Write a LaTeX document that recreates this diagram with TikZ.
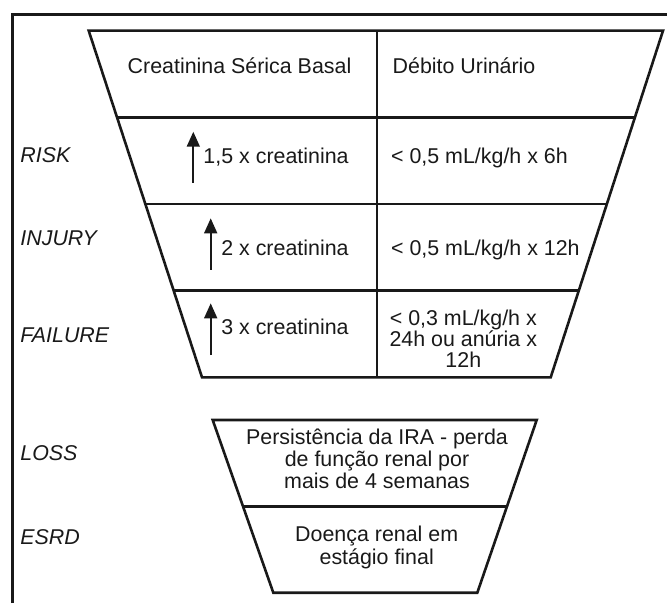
\documentclass[tikz,border=0pt]{standalone}
\usepackage{fontspec}
\setmainfont{Liberation Sans}
\usetikzlibrary{arrows.meta,calc}
\begin{document}
\begin{tikzpicture}[x=0.5pt,y=-0.5pt,
  edge/.style={line width=1.3pt, draw=black!90},
  txt/.style={inner sep=0pt, font=\fontsize{10.7}{11}\selectfont, text=black!90},
  lw/.style={txt, anchor=base west},
  le/.style={txt, anchor=base east},
  lc/.style={txt, anchor=base},
  stage/.style={txt, anchor=base west, font=\fontsize{10.7}{11}\selectfont\itshape},
  multi/.style={txt, align=center, anchor=south, text depth=0pt},
  uparrow/.style={line width=1.1pt, draw=black!90, -{Triangle[length=7.5pt,width=6.4pt]}}]
\useasboundingbox (0,0) rectangle (667,603);
\clip (0,0) rectangle (667,603);
% outer frame (only top and left sides visible)
\coordinate (fb) at (12.5,603);
\coordinate (fc) at (12.5,14.5);
\coordinate (fr) at (667,14.5);
\draw[edge] (fb) -- (fc) -- (fr);
% upper funnel
\coordinate (TL) at (88.7,30.7);
\coordinate (TR) at (663,30.7);
\coordinate (BL) at (202,377.3);
\coordinate (BR) at (550.7,377.3);
\coordinate (DT) at (377,30.7);
\coordinate (DB) at (377,377.3);
\draw[edge] (TL) -- (TR) -- (BR) -- (BL) -- cycle;
\draw[edge] (DT) -- (DB);
\foreach \t/\n in {0.25/1,0.5/2,0.75/3}{
  \coordinate (rl\n) at ($(TL)!\t!(BL)$);
  \coordinate (rr\n) at ($(TR)!\t!(BR)$);
  \draw[edge] (rl\n) -- (rr\n);
}
% lower funnel
\coordinate (tl) at (212.7,420);
\coordinate (tr) at (536.7,420);
\coordinate (bl) at (273.3,592.7);
\coordinate (br) at (477.3,592.7);
\draw[edge] (tl) -- (tr) -- (br) -- (bl) -- cycle;
\coordinate (ml) at ($(tl)!0.5!(bl)$);
\coordinate (mr) at ($(tr)!0.5!(br)$);
\draw[edge] (ml) -- (mr);
% headers
\node[lc] (h1) at (239.5,74) {Creatinina Sérica Basal};
\node[lw] (h2) at (392.3,74) {Débito Urinário};
% stage labels
\node[stage] (risk) at (20,162.3) {RISK};
\node[stage] (injury) at (20,245.7) {INJURY};
\node[stage] (failure) at (20,342.3) {FAILURE};
\node[stage] (loss) at (20,460) {LOSS};
\node[stage] (esrd) at (20,544.3) {ESRD};
% creatinine column
\node[le] (c1) at (349,163.3) {1,5 x creatinina};
\node[le] (c2) at (349,256) {2 x creatinina};
\node[le] (c3) at (349,334.3) {3 x creatinina};
\coordinate (a1s) at (193.3,182.7); \coordinate (a1e) at (193.3,131.7);
\coordinate (a2s) at (210.7,270);   \coordinate (a2e) at (210.7,218.3);
\coordinate (a3s) at (210.7,355);   \coordinate (a3e) at (210.7,303.3);
\draw[uparrow] (a1s) -- (a1e);
\draw[uparrow] (a2s) -- (a2e);
\draw[uparrow] (a3s) -- (a3e);
% urine output column
\node[lw] (u1) at (390.7,163.3) {< 0,5 mL/kg/h x 6h};
\node[lw] (u2) at (390.7,256) {< 0,5 mL/kg/h x 12h};
\node[multi, font=\fontsize{10.7}{10.6}\selectfont] (u3) at (463.3,368.3) {< 0,3 mL/kg/h x\\24h ou anúria x\\12h};
% lower funnel texts
\node[multi, font=\fontsize{10.7}{11.2}\selectfont] (p1) at (377,489.3) {Persistência da IRA - perda\\de função renal por\\mais de 4 semanas};
\node[multi, font=\fontsize{10.7}{11.5}\selectfont] (p2) at (376.7,565) {Doença renal em\\estágio final};
\end{tikzpicture}
\end{document}
